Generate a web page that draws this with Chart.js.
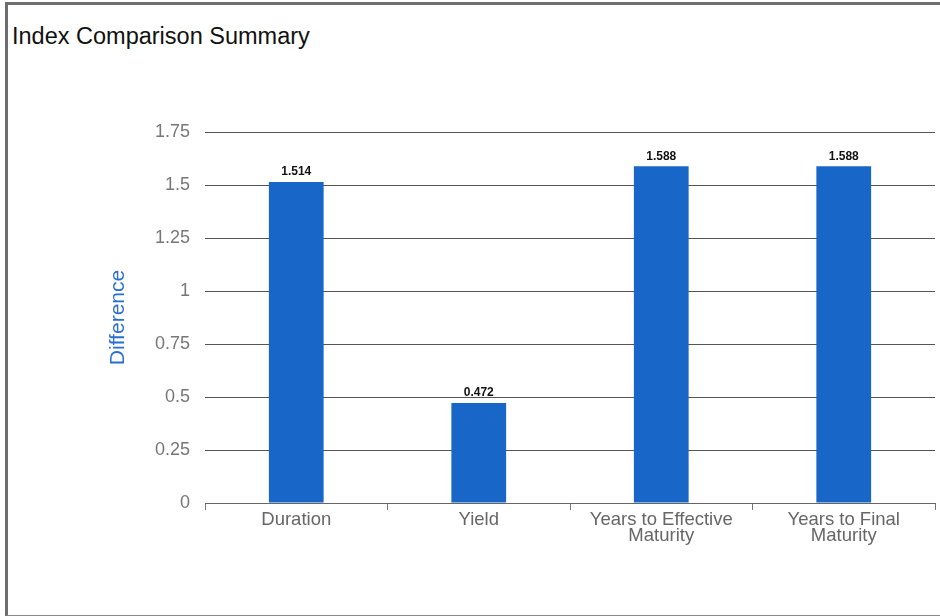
<!DOCTYPE html>
<html>
<head>
<meta charset="utf-8">
<script src="https://cdn.jsdelivr.net/npm/chart.js@4.4.1/dist/chart.umd.min.js"></script>
<style>
  html, body { margin: 0; padding: 0; background: #fff; overflow: hidden; }
  #frame {
    position: absolute; left: 5px; top: 2px; width: 960px; height: 610px;
    border-left: 3px solid #6e6e6e; border-top: 3px solid #6e6e6e; border-bottom: 2px solid #8a8a8a;
  }
  #title {
    position: absolute; left: 12px; top: 23px;
    font-family: "Liberation Sans", Arial, sans-serif; font-size: 23.5px; color: #111;
  }
  #wrap { position: absolute; left: 0; top: 0; width: 940px; height: 616px; }
</style>
</head>
<body>
<div id="frame"></div>
<div id="title">Index Comparison Summary</div>
<div id="wrap"><canvas id="chart"></canvas></div>
<script>
// chart values
const categories = ['Duration', 'Yield', ['Years to Effective', 'Maturity'], ['Years to Final', 'Maturity']];
const differences = [1.514, 0.472, 1.588, 1.588];
const yTicks = [0, 0.25, 0.5, 0.75, 1, 1.25, 1.5, 1.75];

const FONT = '"Liberation Sans", Arial, sans-serif';

// value labels above each bar
const barLabels = {
    id: 'barLabels',
    afterDatasetsDraw(chart) {
        const ctx = chart.ctx;
        const meta = chart.getDatasetMeta(0);
        ctx.save();
        ctx.font = 'bold 12px ' + FONT;
        ctx.fillStyle = '#111';
        ctx.textAlign = 'center';
        ctx.textBaseline = 'bottom';
        meta.data.forEach((bar, i) => {
            ctx.fillText(differences[i].toFixed(3), bar.x, bar.y - 4);
        });
        ctx.restore();
    }
};

new Chart(document.getElementById('chart'), {
    type: 'bar',
    data: {
        labels: categories,
        datasets: [{
            data: differences,
            backgroundColor: '#1766c8',
            categoryPercentage: 1,
            barPercentage: 0.3
        }]
    },
    options: {
        responsive: true,
        maintainAspectRatio: false,
        animation: false,
        layout: { padding: { left: 102, right: 5, top: 132, bottom: 0 } },
        plugins: {
            legend: { display: false },
            tooltip: { enabled: false }
        },
        scales: {
            x: {
                grid: {
                    offset: true,
                    drawOnChartArea: false,
                    color: '#777',
                    tickLength: 7
                },
                border: { color: '#666', width: 1 },
                ticks: {
                    color: '#666',
                    padding: 2,
                    font: { family: FONT, size: 18.5, lineHeight: 0.85 }
                },
                afterFit(scale) { scale.height = 113; }
            },
            y: {
                min: 0,
                max: 1.75,
                afterBuildTicks(scale) { scale.ticks = yTicks.map(v => ({value: v})); },
                grid: { color: '#555', drawTicks: false },
                border: { display: false },
                ticks: {
                    color: '#777',
                    padding: 15,
                    font: { family: FONT, size: 18 },
                    callback: v => String(v)
                },
                title: {
                    display: true,
                    text: 'Difference',
                    color: '#2a6fd0',
                    font: { family: FONT, size: 21 }
                },
                afterFit(scale) { scale.width = 103; }
            }
        }
    },
    plugins: [barLabels]
});
</script>
</body>
</html>
